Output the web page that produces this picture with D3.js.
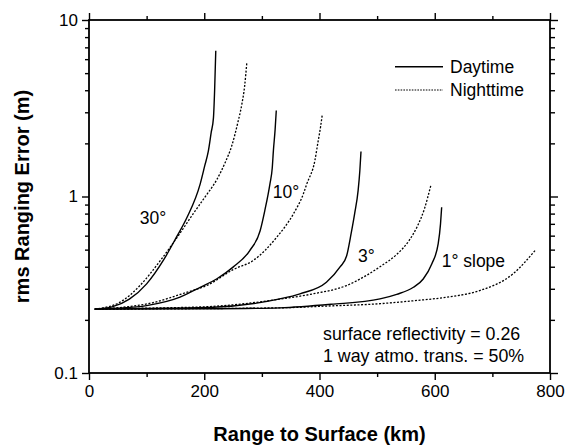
<!DOCTYPE html>
<html lang="en">

<head>
    <meta charset="UTF-8">
    <title>rms Ranging Error</title>
    <script src="https://d3js.org/d3.v7.min.js"></script>
    <style>
        body,
        html {
            margin: 0;
            background-color: white;
            font-family: Arial, "Liberation Sans", sans-serif;
        }

        .axis text {
            font-family: Arial, "Liberation Sans", sans-serif;
            font-size: 17px;
            fill: black;
        }

        .axis path,
        .axis line {
            stroke: black;
        }
    </style>
</head>

<body>
    <svg id="chart"></svg>

    <script>
        // range (km) and rms error (m), one pair of arrays per curve
        const day30X = [10, 40, 70, 100, 130, 152, 170, 193, 201, 207, 212, 216, 218, 220];
        const day30Y = [0.23, 0.237, 0.262, 0.32, 0.44, 0.59, 0.76, 1.18, 1.5, 1.8, 2.3, 2.8, 4.0, 6.7];
        const night30X = [10, 54, 88, 123, 158, 181, 200, 222, 236, 248, 258, 265, 270, 274];
        const night30Y = [0.23, 0.252, 0.312, 0.43, 0.62, 0.8, 0.98, 1.25, 1.55, 1.95, 2.6, 3.3, 4.2, 5.8];

        const day10X = [10, 50, 100, 158, 193, 222, 250, 279, 297, 305, 314, 318, 320, 323, 325];
        const day10Y = [0.23, 0.233, 0.241, 0.269, 0.306, 0.342, 0.398, 0.494, 0.64, 0.83, 1.18, 1.45, 1.82, 2.4, 3.07];
        const night10X = [10, 60, 110, 160, 210, 250, 285, 326, 355, 372, 378, 392, 397, 402, 405];
        const night10Y = [0.23, 0.236, 0.25, 0.28, 0.32, 0.385, 0.434, 0.589, 0.8, 1.035, 1.18, 1.6, 2.0, 2.5, 2.94];

        const day3X = [10, 100, 216, 291, 331, 366, 412, 436, 447, 455, 461, 467, 470, 472];
        const day3Y = [0.23, 0.232, 0.236, 0.249, 0.263, 0.281, 0.327, 0.4, 0.46, 0.62, 0.8, 1.08, 1.4, 1.8];
        const night3X = [10, 100, 210, 331, 389, 447, 480, 505, 534, 555, 570, 582, 593];
        const night3Y = [0.23, 0.233, 0.238, 0.262, 0.281, 0.313, 0.355, 0.4, 0.47, 0.56, 0.68, 0.85, 1.15];

        const day1X = [10, 200, 331, 420, 505, 534, 563, 580, 595, 606, 610, 612];
        const day1Y = [0.23, 0.231, 0.234, 0.245, 0.263, 0.279, 0.306, 0.341, 0.416, 0.54, 0.7, 0.87];
        const night1X = [10, 331, 420, 505, 560, 621, 678, 736, 774];
        const night1Y = [0.23, 0.234, 0.24, 0.247, 0.256, 0.269, 0.293, 0.365, 0.494];

        const xMajor = [0, 200, 400, 600, 800];
        const xMinor = [100, 300, 500, 700];
        const yMajor = [0.1, 1, 10];
        const yMinor = [0.2, 0.3, 0.4, 0.5, 0.6, 0.7, 0.8, 0.9, 2, 3, 4, 5, 6, 7, 8, 9];

        const legendLabels = ["Daytime", "Nighttime"];
        const slopeLabels = ["30°", "10°", "3°", "1° slope"];
        const slopeLabelAt = [[88, 0.7], [319, 0.975], [467, 0.428], [612, 0.4]]; // [km, m] of label baseline start
        const noteLines = ["surface reflectivity = 0.26", "1 way atmo. trans. = 50%"];

        const curves = [
            { x: day30X, y: day30Y, night: false },
            { x: night30X, y: night30Y, night: true },
            { x: day10X, y: day10Y, night: false },
            { x: night10X, y: night10Y, night: true },
            { x: day3X, y: day3Y, night: false },
            { x: night3X, y: night3Y, night: true },
            { x: day1X, y: day1Y, night: false },
            { x: night1X, y: night1Y, night: true }
        ];

        const svgWidth = 566;
        const svgHeight = 445;
        const margin = { top: 20, right: 16, bottom: 72, left: 89 };
        const width = svgWidth - margin.left - margin.right;
        const height = svgHeight - margin.top - margin.bottom;

        const svg = d3.select("#chart")
            .attr("width", svgWidth)
            .attr("height", svgHeight);

        const g = svg.append("g")
            .attr("transform", `translate(${margin.left}, ${margin.top})`);

        const xScale = d3.scaleLinear().domain([0, 800]).range([0, width]);
        const yScale = d3.scaleLog().domain([0.1, 10]).range([height, 0]);

        // minor ticks first, then major ticks with labels
        function addAxis(axisFn, scale, values, size, labels, transform) {
            const ax = axisFn(scale)
                .tickValues(values)
                .tickSize(size)
                .tickSizeOuter(0)
                .tickPadding(5);
            if (labels) ax.tickFormat(d3.format("~g"));
            else ax.tickFormat("");
            const a = g.append("g")
                .attr("class", "axis")
                .attr("transform", transform)
                .call(ax);
            a.select(".domain").remove();
            a.selectAll("line").attr("stroke-width", 1.4);
            return a;
        }

        // bottom and left ticks point out, top and right ticks point in
        addAxis(d3.axisBottom, xScale, xMinor, 4, false, `translate(0, ${height})`);
        const xAx = addAxis(d3.axisBottom, xScale, xMajor, 7, true, `translate(0, ${height})`);
        xAx.selectAll("text").attr("dy", "0.95em").attr("y", 8);
        addAxis(d3.axisBottom, xScale, xMinor, -4, false, "translate(0, 0)");
        addAxis(d3.axisBottom, xScale, xMajor, -7, false, "translate(0, 0)");

        addAxis(d3.axisLeft, yScale, yMinor, 4, false, "translate(0, 0)");
        const yAx = addAxis(d3.axisLeft, yScale, yMajor, 7, true, "translate(0, 0)");
        yAx.selectAll("text").attr("x", -11);
        addAxis(d3.axisLeft, yScale, yMinor, -5, false, `translate(${width}, 0)`);
        addAxis(d3.axisLeft, yScale, yMajor, -8, false, `translate(${width}, 0)`);

        // frame
        g.append("rect")
            .attr("width", width)
            .attr("height", height)
            .attr("fill", "none")
            .attr("stroke", "black")
            .attr("stroke-width", 1.8);

        const line = d3.line()
            .x(d => xScale(d[0]))
            .y(d => yScale(d[1]))
            .curve(d3.curveMonotoneX);

        g.selectAll(".curve")
            .data(curves)
            .enter().append("path")
            .attr("class", "curve")
            .attr("d", c => line(c.x.map((v, i) => [v, c.y[i]])))
            .attr("fill", "none")
            .attr("stroke", "black")
            .attr("stroke-width", c => c.night ? 1.3 : 1.4)
            .attr("stroke-dasharray", c => c.night ? "2,1.6" : null);

        // legend
        const legend = g.selectAll(".legend")
            .data(legendLabels)
            .enter().append("g")
            .attr("class", "legend")
            .attr("transform", (d, i) => `translate(0, ${46.7 + i * 23.3})`);

        legend.append("line")
            .attr("x1", 306)
            .attr("x2", 354)
            .attr("stroke", "black")
            .attr("stroke-width", (d, i) => i ? 1.2 : 1.4)
            .attr("stroke-dasharray", (d, i) => i ? "1.6,1.2" : null);

        legend.append("text")
            .attr("x", 361)
            .attr("y", 6)
            .style("font-size", "17.5px")
            .text(d => d);

        g.selectAll(".slope")
            .data(slopeLabels)
            .enter().append("text")
            .attr("class", "slope")
            .attr("x", (d, i) => xScale(slopeLabelAt[i][0]))
            .attr("y", (d, i) => yScale(slopeLabelAt[i][1]))
            .style("font-size", "17.5px")
            .text(d => d);

        g.selectAll(".note")
            .data(noteLines)
            .enter().append("text")
            .attr("class", "note")
            .attr("x", 234)
            .attr("y", (d, i) => 320 + i * 22)
            .style("font-size", "17.8px")
            .text(d => d);

        // axis titles
        svg.append("text")
            .attr("x", margin.left + width / 2)
            .attr("y", 441)
            .attr("text-anchor", "middle")
            .style("font-size", "20px")
            .style("font-weight", "bold")
            .text("Range to Surface (km)");

        svg.append("text")
            .attr("transform", `translate(29, ${margin.top + height / 2}) rotate(-90)`)
            .attr("text-anchor", "middle")
            .style("font-size", "20px")
            .style("font-weight", "bold")
            .text("rms Ranging Error (m)");
    </script>
</body>

</html>
